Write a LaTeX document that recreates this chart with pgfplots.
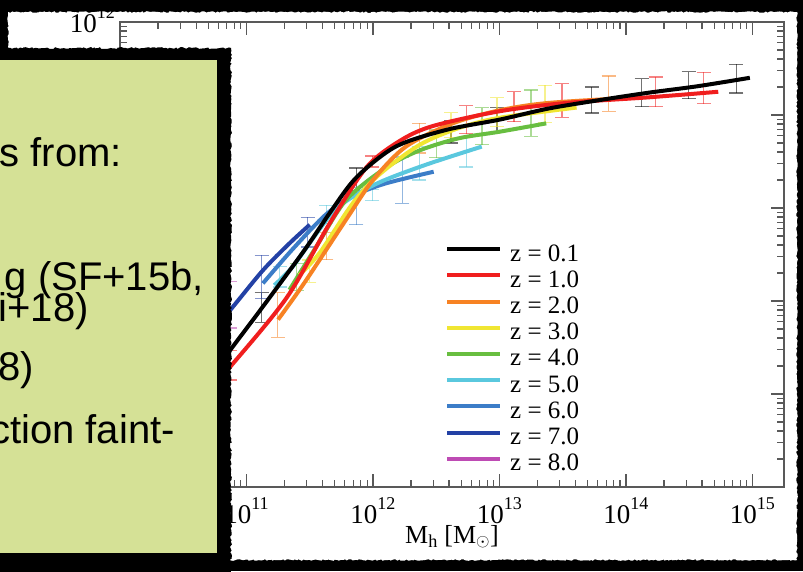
\documentclass[border=0pt]{standalone}
\usepackage{fontspec}
\setmainfont{Liberation Serif}
\newfontfamily\slidefont{Liberation Sans}
\usepackage{pgfplots}
\pgfplotsset{compat=1.18}
\usetikzlibrary{decorations.pathmorphing}

\definecolor{zred}{RGB}{240,30,30}
\definecolor{zorange}{RGB}{247,130,35}
\definecolor{zyellow}{RGB}{240,230,50}
\definecolor{zgreen}{RGB}{104,190,64}
\definecolor{zcyan}{RGB}{90,200,222}
\definecolor{zblue}{RGB}{60,125,200}
\definecolor{zdblue}{RGB}{35,65,165}
\definecolor{zmag}{RGB}{190,75,180}
\definecolor{notegreen}{RGB}{213,225,150}

\newcommand{\tenpow}[1]{10\raisebox{14pt}{\fontsize{18}{18}\selectfont #1}}

\pgfplotsset{
  ebar/.style={draw=none, mark=none, forget plot,
    error bars/.cd, y dir=both, y explicit,
    error bar style={draw=#1, line width=1.3pt, opacity=0.55},
    error mark options={rotate=90, draw=#1, mark size=7pt, line width=1.3pt, opacity=0.55}},
  curve/.style={color=#1, line width=4pt, smooth},
}

\begin{document}
\begin{tikzpicture}[x=1pt,y=1pt]
\useasboundingbox (0,0) rectangle (803,571);
\fill[black] (0,0) rectangle (803,571);
\fill[white, decorate, decoration={random steps, segment length=2pt, amplitude=0.8pt}] (8,11) rectangle (797,559);

\begin{axis}[
    at={(120pt,84pt)}, anchor=south west,
    width=664pt, height=465pt, scale only axis,
    xmin=10, xmax=15.25, ymin=7, ymax=12,
    xtick={10,11,12,13,14,15},
    xticklabels={\tenpow{10},\tenpow{11},\tenpow{12},\tenpow{13},\tenpow{14},\tenpow{15}},
    minor xtick={10.301,10.477,10.602,10.699,10.778,10.845,10.903,10.954,
                 11.301,11.477,11.602,11.699,11.778,11.845,11.903,11.954,
                 12.301,12.477,12.602,12.699,12.778,12.845,12.903,12.954,
                 13.301,13.477,13.602,13.699,13.778,13.845,13.903,13.954,
                 14.301,14.477,14.602,14.699,14.778,14.845,14.903,14.954},
    ytick={7,8,9,10,11,12},
    yticklabels={\tenpow{7},\tenpow{8},\tenpow{9},\tenpow{10},\tenpow{11},\tenpow{12}},
    minor ytick={7.301,7.477,7.602,7.699,7.778,7.845,7.903,7.954,
                 8.301,8.477,8.602,8.699,8.778,8.845,8.903,8.954,
                 9.301,9.477,9.602,9.699,9.778,9.845,9.903,9.954,
                 10.301,10.477,10.602,10.699,10.778,10.845,10.903,10.954,
                 11.301,11.477,11.602,11.699,11.778,11.845,11.903,11.954},
    tick align=inside,
    major tick length=13pt, minor tick length=7pt,
    tick style={black!65, line width=1.2pt},
    axis line style={black!65, line width=1.6pt},
    xticklabel style={font=\fontsize{27}{27}\selectfont, anchor=north, inner sep=0pt, yshift=-10pt},
    yticklabel style={font=\fontsize{27}{27}\selectfont, anchor=east, inner sep=0pt, xshift=-5pt, yshift=2pt},
    xlabel={M\textsubscript{h} [M$_{\odot}$]},
    xlabel style={font=\fontsize{26}{26}\selectfont, at={(axis description cs:0.5,0)}, anchor=base, yshift=-56pt, inner sep=0pt},
    legend style={at={(axis description cs:0.485,0.527)}, anchor=north west,
      draw=none, fill=none, font=\fontsize{25}{25}\selectfont,
      nodes={inner sep=0pt, text height=17pt, text depth=9.2pt}, row sep=0pt,
      /tikz/every odd column/.append style={column sep=8pt}},
    legend cell align=left,
    legend image code/.code={\draw[#1, line width=4pt] (0pt,8pt) -- (53pt,8pt);},
    reverse legend,
  ]

% error bars (log Mh, log M*, half range)
\addplot[ebar=black] table[x index=0, y index=1, y error index=2] {
11.120 8.93 0.16
11.869 10.31 0.12
12.618 10.82 0.12
12.981 10.95 0.13
13.730 11.16 0.14
14.125 11.24 0.15
14.495 11.32 0.145
14.874 11.39 0.155
};
\addplot[ebar=zred] table[x index=0, y index=1, y error index=2] {
10.867 8.31 0.16
11.995 10.50 0.06
12.737 10.95 0.15
13.115 11.09 0.16
13.494 11.155 0.18
14.235 11.25 0.16
14.614 11.29 0.17
};
\addplot[ebar=zorange] table[x index=0, y index=1, y error index=2] {
11.246 8.85 0.24
11.632 9.59 0.145
12.366 10.75 0.16
13.864 11.23 0.19
};
\addplot[ebar=zyellow] table[x index=0, y index=1, y error index=2] {
11.498 9.32 0.12
12.618 10.89 0.135
12.981 11.03 0.155
13.360 11.12 0.20
};
\addplot[ebar=zgreen] table[x index=0, y index=1, y error index=2] {
11.396 9.26 0.145
12.500 10.69 0.15
12.863 10.88 0.20
13.249 11.02 0.25
};
\addplot[ebar=zcyan] table[x index=0, y index=1, y error index=2] {
11.262 9.26 0.11
11.632 9.93 0.10
11.995 10.14 0.06
12.366 10.48 0.18
12.737 10.60 0.16
};
\addplot[ebar=zblue] table[x index=0, y index=1, y error index=2] {
11.869 10.02 0.20
12.232 10.30 0.25
};
\addplot[ebar=zdblue] table[x index=0, y index=1, y error index=2] {
11.120 9.26 0.23
11.483 9.74 0.16
};
\addplot[ebar=zmag] table[x index=0, y index=1, y error index=2] {
10.867 8.96 0.25
};

% fitted relations, highest redshift first so that z = 0.1 lies on top
\addplot[curve=zmag] coordinates {(10.50,8.60) (10.70,8.82) (10.85,9.00)};
\addlegendentry{z = 8.0}
\addplot[curve=zdblue] coordinates {(10.50,8.30) (10.87,8.90) (11.13,9.33) (11.34,9.62) (11.50,9.82)};
\addlegendentry{z = 7.0}
\addplot[curve=zblue] coordinates {(11.13,9.19) (11.36,9.55) (11.62,9.92) (11.83,10.12) (12.09,10.26) (12.48,10.39)};
\addlegendentry{z = 6.0}
\addplot[curve=zcyan] coordinates {(11.22,9.17) (11.36,9.36) (11.54,9.70) (11.70,9.98) (11.90,10.17) (12.11,10.31) (12.45,10.48) (12.86,10.66)};
\addlegendentry{z = 5.0}
\addplot[curve=zgreen] coordinates {(11.34,9.12) (11.55,9.58) (11.79,10.09) (12.11,10.44) (12.37,10.62) (12.68,10.75) (13.00,10.82) (13.37,10.91)};
\addlegendentry{z = 4.0}
\addplot[curve=zyellow] coordinates {(11.42,9.28) (11.58,9.52) (11.84,10.05) (12.05,10.36) (12.37,10.68) (12.68,10.86) (13.00,10.97) (13.61,11.08)};
\addlegendentry{z = 3.0}
\addplot[curve=zorange] coordinates {(11.25,8.80) (11.46,9.20) (11.79,9.88) (12.00,10.30) (12.26,10.66) (12.63,10.91) (13.00,11.05) (13.39,11.13) (14.10,11.19)};
\addlegendentry{z = 2.0}
\addplot[curve=zred] coordinates {(10.50,7.72) (10.87,8.29) (11.32,9.04) (11.66,9.84) (11.95,10.44) (12.21,10.72) (12.47,10.88) (13.00,11.04) (13.53,11.13) (14.18,11.19) (14.73,11.25)};
\addlegendentry{z = 1.0}
\addplot[curve=black] coordinates {(10.50,7.80) (10.87,8.47) (11.13,8.94) (11.46,9.55) (11.66,9.95) (11.87,10.33) (12.18,10.66) (12.58,10.84) (13.00,10.95) (13.39,11.07) (13.79,11.16) (14.18,11.24) (14.57,11.31) (14.98,11.40)};
\addlegendentry{z = 0.1}
\end{axis}

% slide text box lying over the left part of the figure
\fill[black, decorate, decoration={random steps, segment length=2pt, amplitude=1pt}] (-6,-6) rectangle (231,523);
\fill[notegreen] (-6,18) rectangle (217,511);
\begin{scope}[every node/.style={font=\slidefont\fontsize{40}{40}\selectfont, anchor=base east, inner sep=0pt}]
\node at (122,404) {s from:};
\node at (204,280) {g (SF+15b,};
\node at (89,249) {i+18)};
\node at (34,191) {8)};
\node at (175,128) {ction faint-};
\end{scope}
\end{tikzpicture}
\end{document}
